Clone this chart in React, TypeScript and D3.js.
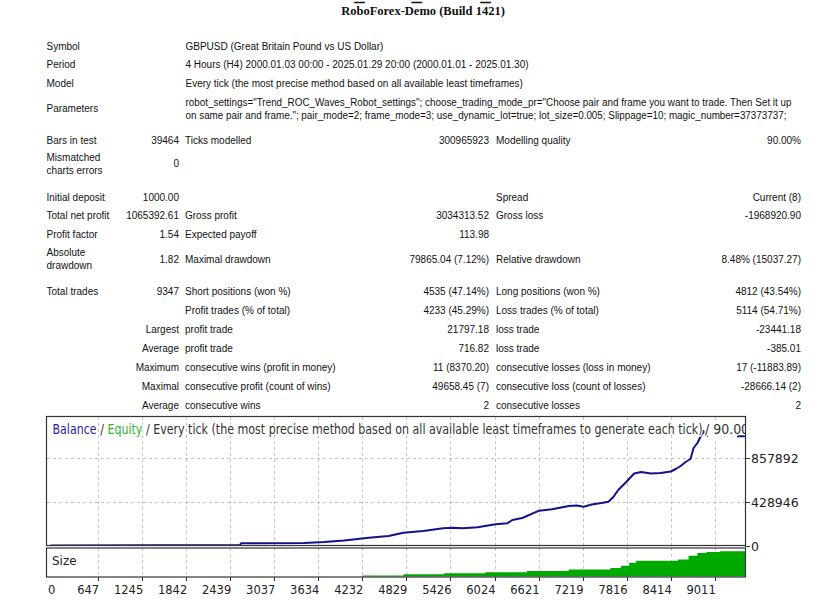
import React from 'react';
import * as d3 from 'd3';

// ---------- data ----------
const serverTitle = 'RoboForex-Demo (Build 1421)';
const expertTitle = 'Trend_ROC_Waves_Robot';

const infoLabels = ['Symbol', 'Period', 'Model', 'Parameters'];
const infoValues = [
  ['GBPUSD (Great Britain Pound vs US Dollar)'],
  ['4 Hours (H4) 2000.01.03 00:00 - 2025.01.29 20:00 (2000.01.01 - 2025.01.30)'],
  ['Every tick (the most precise method based on all available least timeframes)'],
  [
    'robot_settings="Trend_ROC_Waves_Robot_settings"; choose_trading_mode_pr="Choose pair and frame you want to trade. Then Set it up',
    'on same pair and frame."; pair_mode=2; frame_mode=3; use_dynamic_lot=true; lot_size=0.005; Slippage=10; magic_number=37373737;',
  ],
];

const statRows: string[][] = [
  ['Bars in test', '39464', 'Ticks modelled', '300965923', 'Modelling quality', '90.00%'],
  ['Mismatched\ncharts errors', '0', '', '', '', ''],
  ['Initial deposit', '1000.00', '', '', 'Spread', 'Current (8)'],
  ['Total net profit', '1065392.61', 'Gross profit', '3034313.52', 'Gross loss', '-1968920.90'],
  ['Profit factor', '1.54', 'Expected payoff', '113.98', '', ''],
  ['Absolute\ndrawdown', '1.82', 'Maximal drawdown', '79865.04 (7.12%)', 'Relative drawdown', '8.48% (15037.27)'],
  ['Total trades', '9347', 'Short positions (won %)', '4535 (47.14%)', 'Long positions (won %)', '4812 (43.54%)'],
  ['', '', 'Profit trades (% of total)', '4233 (45.29%)', 'Loss trades (% of total)', '5114 (54.71%)'],
  ['', 'Largest', 'profit trade', '21797.18', 'loss trade', '-23441.18'],
  ['', 'Average', 'profit trade', '716.82', 'loss trade', '-385.01'],
  ['', 'Maximum', 'consecutive wins (profit in money)', '11 (8370.20)', 'consecutive losses (loss in money)', '17 (-11883.89)'],
  ['', 'Maximal', 'consecutive profit (count of wins)', '49658.45 (7)', 'consecutive loss (count of losses)', '-28666.14 (2)'],
  ['', 'Average', 'consecutive wins', '2', 'consecutive losses', '2'],
];

const xTickLabels = [0, 647, 1245, 1842, 2439, 3037, 3634, 4232, 4829, 5426, 6024, 6621, 7219, 7816, 8414, 9011];
const yTickLabels = [0, 428946, 857892];
const totalTrades = 9347;

const balanceTrades = [0, 1430, 2572, 2585, 3445, 3714, 3982, 4318, 4586, 4788, 5056, 5325, 5459, 5594, 5795, 6037, 6198, 6265, 6400, 6628, 6803, 7031, 7139, 7233, 7340, 7474, 7568, 7635, 7702, 7810, 7917, 8011, 8145, 8280, 8414, 8481, 8548, 8615, 8682, 8723, 8776, 8817, 8857, 8897, 9347];
const balanceValues = [1000, 2500, 4900, 21450, 24400, 34100, 48750, 76050, 92600, 124800, 141400, 167700, 173500, 167700, 177500, 206700, 216500, 248600, 268100, 339300, 353000, 385100, 390000, 378300, 399800, 414400, 427100, 472900, 541100, 619100, 702000, 716600, 702000, 706900, 721500, 745900, 775100, 814100, 843400, 950600, 999400, 1060800, 1116400, 1067600, 1066392];

const sizeTrades = [0, 4230, 4790, 5340, 5900, 6465, 7030, 7595, 7740, 7850, 7945, 8510, 8655, 8776, 8897, 9085, 9347];
const sizeValues = [0, 0.1, 0.24, 0.34, 0.44, 0.57, 0.7, 0.87, 1.1, 1.4, 1.6, 1.74, 2.1, 2.4, 2.5, 2.57, 2.57];

// ---------- component ----------
const FT = "'Liberation Sans', Arial, sans-serif";
const FC = "'DejaVu Sans', Verdana, sans-serif";

export default function App() {
  const L = 47, R = 745;
  const mainTop = 417, mainBot = 545.5;
  const sizeTop = 548, sizeBot = 577;

  const x = d3.scaleLinear().domain([-47, 9421]).range([L, R]);
  const yB = d3.scaleLinear().domain([0, 1252875]).range([mainBot, mainTop]);
  const yS = d3.scaleLinear().domain([0, 2.85]).range([sizeBot - 0.5, sizeTop + 0.5]);
  const xEnd = x.domain()[1];

  const balPts: [number, number][] = balanceTrades.map((t, i) => [t, balanceValues[i]]);
  balPts.push([xEnd, balanceValues[balanceValues.length - 1]]);
  const sizePts: [number, number][] = sizeTrades.map((t, i) => [t, sizeValues[i]]);
  sizePts.push([xEnd, sizeValues[sizeValues.length - 1]]);

  const line = d3.line<[number, number]>().x(d => x(d[0])).y(d => yB(d[1]));
  const area = d3.area<[number, number]>().curve(d3.curveStepAfter)
    .x(d => x(d[0])).y0(yS(0)).y1(d => yS(d[1]));

  const infoY = [46.7, 64.3, 83.3, 108.7];
  const infoWidths: (number[] | null)[] = [null, null, null, [606, 601]];
  const statY = [140, 163.5, 197.7, 215.7, 234.3, 259.2, 291.7, 310.7, 329.3, 348.3, 367.7, 386, 405];
  const colX = [46.5, 179, 185, 489, 496, 801];
  const colAnchor = ['start', 'end', 'start', 'end', 'start', 'end'];

  const cell = (txt: string, cx: number, cy: number, anchor: string, key: string, widths?: number[] | null) => {
    if (!txt) return null;
    const lines = txt.split('\n');
    const lh = 13;
    const y0 = cy - ((lines.length - 1) * lh) / 2 + 3.6;
    return (
      <g key={key}>
        {lines.map((l, i) => (
          <text key={i} x={cx} y={y0 + i * lh} textAnchor={anchor as any} fontFamily={FT} fontSize={10} fill="#111"
            {...(widths ? { textLength: widths[i], lengthAdjust: 'spacingAndGlyphs' } : {})}>{l}</text>
        ))}
      </g>
    );
  };

  return (
    <svg width={822} height={600} style={{ position: 'absolute', left: 0, top: 0, background: '#fff' }}>
      <defs>
        <clipPath id="mainClip">
          <rect x={L} y={mainTop} width={R - L} height={mainBot - mainTop} />
        </clipPath>
        <clipPath id="sizeClip">
          <rect x={L} y={sizeTop} width={R - L} height={sizeBot - sizeTop} />
        </clipPath>
      </defs>
      <rect x={0} y={0} width={822} height={600} fill="#fff" />

      {/* header */}
      <text x={423} y={-0.5} textAnchor="middle" fontFamily="'Liberation Serif', 'Times New Roman', serif" fontWeight="bold" fontSize={21} fill="#111">{expertTitle}</text>
      <text x={423} y={15} textAnchor="middle" fontFamily="'Liberation Serif', 'Times New Roman', serif" fontWeight="bold" fontSize={12.5} fill="#111">{serverTitle}</text>

      {/* info rows */}
      {infoLabels.map((lab, i) => (
        <g key={'info' + i}>
          {cell(lab, colX[0], infoY[i], 'start', 'il' + i)}
          {cell(infoValues[i].join('\n'), 185.5, infoY[i], 'start', 'iv' + i, infoWidths[i])}
        </g>
      ))}

      {/* stats rows */}
      {statRows.map((row, r) => (
        <g key={'row' + r}>
          {row.map((c, ci) => cell(c, colX[ci], statY[r], colAnchor[ci], `c${r}_${ci}`))}
        </g>
      ))}

      {/* grid main */}
      {xTickLabels.filter(v => v > 0).map(v => (
        <line key={'gv' + v} x1={Math.round(x(v)) + 0.5} x2={Math.round(x(v)) + 0.5} y1={mainTop} y2={mainBot} stroke="#c4c4c4" strokeDasharray="3,3" />
      ))}
      {yTickLabels.filter(v => v > 0).map(v => (
        <line key={'gh' + v} x1={L} x2={R} y1={Math.round(yB(v)) + 0.5} y2={Math.round(yB(v)) + 0.5} stroke="#c4c4c4" strokeDasharray="3,3" />
      ))}
      {/* grid size */}
      {xTickLabels.filter(v => v > 0).map(v => (
        <line key={'gs' + v} x1={Math.round(x(v)) + 0.5} x2={Math.round(x(v)) + 0.5} y1={sizeTop} y2={sizeBot} stroke="#c4c4c4" strokeDasharray="3,3" />
      ))}

      {/* size area */}
      <path d={area(sizePts) || ''} fill="#00a900" clipPath="url(#sizeClip)" />

      {/* balance line */}
      <path d={line(balPts) || ''} fill="none" stroke="#12128e" strokeWidth={2} strokeLinejoin="round" clipPath="url(#mainClip)" />

      {/* chart title */}
      <g clipPath="url(#mainClip)" fontFamily={FC} fontSize={13.5}>
        <rect x={708} y={421} width={29} height={17} fill="#fff" />
        <g style={{ paintOrder: 'stroke' } as any} stroke="#fff" strokeWidth={3} strokeLinejoin="round">
          <text x={52.5} y={433.5} textLength={650} lengthAdjust="spacingAndGlyphs">
            <tspan fill="#1f1fa0">Balance</tspan>
            <tspan fill="#333"> / </tspan>
            <tspan fill="#2db52d">Equity</tspan>
            <tspan fill="#333"> / Every tick (the most precise method based on all available least timeframes to generate each tick)</tspan>
          </text>
          <text x={705} y={433.5} fill="#333" textLength={56} lengthAdjust="spacingAndGlyphs">{' / 90.00%'}</text>
        </g>
      </g>

      {/* borders */}
      <rect x={L - 0.5} y={mainTop - 0.5} width={R - L + 1} height={mainBot - mainTop + 0.5} fill="none" stroke="#333" strokeWidth={1.2} />
      <rect x={L - 0.5} y={sizeTop} width={R - L + 1} height={sizeBot - sizeTop} fill="none" stroke="#333" strokeWidth={1.2} />

      <text x={52} y={565} fontFamily={FC} fontSize={12} fill="#222">Size</text>

      {/* y axis labels */}
      {yTickLabels.map(v => (
        <g key={'yl' + v}>
          <line x1={R} x2={R + 5} y1={Math.round(yB(v)) + 0.5} y2={Math.round(yB(v)) + 0.5} stroke="#333" />
          <text x={751} y={yB(v) + 5} fontFamily={FC} fontSize={12.5} fill="#222">{v}</text>
        </g>
      ))}

      {/* x axis labels */}
      {xTickLabels.map(v => (
        <g key={'xl' + v}>
          {v > 0 && <line x1={Math.round(x(v)) + 0.5} x2={Math.round(x(v)) + 0.5} y1={sizeBot} y2={sizeBot + 4} stroke="#333" />}
          <text x={v === 0 ? 48 : x(v) + 1} y={594} textAnchor={v === 0 ? 'start' : 'end'} fontFamily={FC} fontSize={11.5} fill="#222">{v}</text>
        </g>
      ))}
    </svg>
  );
}
